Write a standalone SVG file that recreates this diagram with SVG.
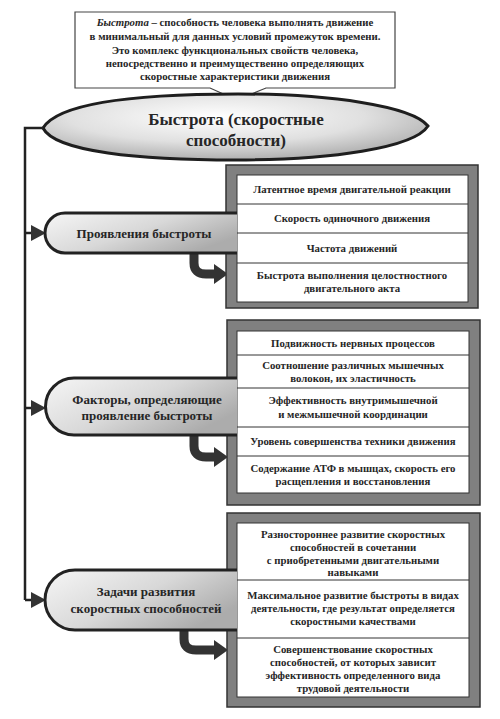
<svg xmlns="http://www.w3.org/2000/svg" width="500" height="719" viewBox="0 0 500 719">
<defs>
<radialGradient id="gEll" cx="0.45" cy="0.35" r="0.7">
<stop offset="0" stop-color="#ffffff"/>
<stop offset="0.55" stop-color="#e0e0e0"/>
<stop offset="1" stop-color="#a6a6a6"/>
</radialGradient>
<linearGradient id="gTab" x1="0" y1="0" x2="1" y2="0.6">
<stop offset="0" stop-color="#f6f6f6"/>
<stop offset="0.55" stop-color="#d8d8d8"/>
<stop offset="1" stop-color="#acacac"/>
</linearGradient>
</defs>
<style>
text{font-family:"Liberation Serif","Times New Roman",serif;font-weight:bold;fill:#262626;text-anchor:middle}
.t{font-size:10.8px}
.tab{font-size:13px}
.top{font-size:10.8px}
.ell{font-size:17px}
.frame{fill:#808080;stroke:#333;stroke-width:1.5}
.inner{fill:#fff;stroke:#333;stroke-width:1}
.div{stroke:#333;stroke-width:1}
.tabfill{fill:url(#gTab)}
.tabline{fill:none;stroke:#222;stroke-width:3}
.conn{fill:none;stroke:#222;stroke-width:2.5}
.curve{fill:none;stroke:#333;stroke-width:9}
.head{fill:#333}
</style>
<rect width="500" height="719" fill="#fff"/>

<g id="definition">
<path d="M75,12 H395 V88 H266 L237,100 L210,88 H75 Z" fill="#fff" stroke="#444" stroke-width="1.2"/>
<text class="top" x="235" y="26"><tspan font-style="italic">Быстрота</tspan> – способность человека выполнять движение</text>
<text class="top" x="235" y="40">в минимальный для данных условий промежуток времени.</text>
<text class="top" x="235" y="54">Это комплекс функциональных свойств человека,</text>
<text class="top" x="235" y="67">непосредственно и преимущественно определяющих</text>
<text class="top" x="235" y="80">скоростные характеристики движения</text>
</g>

<g id="speed">
<path d="M43,128 C60,100 150,94 238,94 C330,94 412,106 428,126 C414,148 330,160 236,160 C140,160 55,152 43,128 Z" fill="url(#gEll)" stroke="#1e1e1e" stroke-width="3"/>
<text class="ell" x="236" y="125">Быстрота (скоростные</text>
<text class="ell" x="236" y="146">способности)</text>
</g>

<g id="connectors">
<path class="conn" d="M43,128 H25 V600"/>
<path class="conn" d="M25,233 H34"/>
<polygon class="head" points="31,225 46,233 31,241"/>
<path class="conn" d="M25,408 H34"/>
<polygon class="head" points="31,400 46,408 31,416"/>
<path class="conn" d="M25,600 H34"/>
<polygon class="head" points="31,592 46,600 31,608"/>
<path class="curve" d="M194,252 V263 Q194,274 206,274 H215"/>
<polygon class="head" points="214,264 228,274 214,284"/>
<path class="curve" d="M194,434 V446 Q194,457 206,457 H215"/>
<polygon class="head" points="214,447 228,457 214,467"/>
<path class="curve" d="M184,629 V639 Q184,650 196,650 H215"/>
<polygon class="head" points="214,640 228,650 214,660"/>
</g>

<g id="manifestations-list">
<rect class="frame" x="226" y="165" width="252" height="143"/>
<rect class="inner" x="237" y="175" width="231" height="127"/>
<line class="div" x1="237" y1="204" x2="468" y2="204"/>
<line class="div" x1="237" y1="233" x2="468" y2="233"/>
<line class="div" x1="237" y1="263" x2="468" y2="263"/>
<text class="t" x="352" y="193">Латентное время двигательной реакции</text>
<text class="t" x="352" y="222">Скорость одиночного движения</text>
<text class="t" x="352" y="252">Частота движений</text>
<text class="t" x="352" y="279">Быстрота выполнения целостностного</text>
<text class="t" x="352" y="292">двигательного акта</text>
</g>

<g id="factors-list">
<rect class="frame" x="227" y="320" width="253" height="185"/>
<rect class="inner" x="237" y="331" width="232" height="162"/>
<line class="div" x1="237" y1="355" x2="469" y2="355"/>
<line class="div" x1="237" y1="388" x2="469" y2="388"/>
<line class="div" x1="237" y1="427" x2="469" y2="427"/>
<line class="div" x1="237" y1="456" x2="469" y2="456"/>
<text class="t" x="353" y="347">Подвижность нервных процессов</text>
<text class="t" x="353" y="369">Соотношение различных мышечных</text>
<text class="t" x="353" y="382">волокон, их эластичность</text>
<text class="t" x="353" y="404">Эффективность внутримышечной</text>
<text class="t" x="353" y="418">и межмышечной координации</text>
<text class="t" x="353" y="445">Уровень совершенства техники движения</text>
<text class="t" x="353" y="472">Содержание АТФ в мышцах, скорость его</text>
<text class="t" x="353" y="485">расщепления и восстановления</text>
</g>

<g id="tasks-list">
<rect class="frame" x="227" y="513" width="253" height="194"/>
<rect class="inner" x="237" y="523" width="232" height="174"/>
<line class="div" x1="237" y1="580" x2="469" y2="580"/>
<line class="div" x1="237" y1="638" x2="469" y2="638"/>
<text class="t" x="353" y="538">Разностороннее развитие скоростных</text>
<text class="t" x="353" y="551">способностей в сочетании</text>
<text class="t" x="353" y="564">с приобретенными двигательными</text>
<text class="t" x="353" y="576">навыками</text>
<text class="t" x="353" y="599">Максимальное развитие быстроты в видах</text>
<text class="t" x="353" y="612">деятельности, где результат определяется</text>
<text class="t" x="353" y="625">скоростными качествами</text>
<text class="t" x="353" y="653">Совершенствование скоростных</text>
<text class="t" x="353" y="666">способностей, от которых зависит</text>
<text class="t" x="353" y="679">эффективность определенного вида</text>
<text class="t" x="353" y="692">трудовой деятельности</text>
</g>

<g id="manifestations">
<path class="tabfill" d="M237,213 H65 A20,20 0 0 0 65,253 H237 Z"/>
<path class="tabline" d="M237,213 H65 A20,20 0 0 0 65,253 H237"/>
<text class="tab" x="144" y="238">Проявления быстроты</text>
</g>

<g id="factors">
<path class="tabfill" d="M237,378 H74 A28.5,28.5 0 0 0 74,435 H237 Z"/>
<path class="tabline" d="M237,378 H74 A28.5,28.5 0 0 0 74,435 H237"/>
<text class="tab" x="147" y="404">Факторы, определяющие</text>
<text class="tab" x="147" y="420">проявление быстроты</text>
</g>

<g id="tasks">
<path class="tabfill" d="M237,570 H75 A30,30 0 0 0 75,630 H237 Z"/>
<path class="tabline" d="M237,570 H75 A30,30 0 0 0 75,630 H237"/>
<text class="tab" x="146" y="596">Задачи развития</text>
<text class="tab" x="146" y="613">скоростных способностей</text>
</g>
</svg>
